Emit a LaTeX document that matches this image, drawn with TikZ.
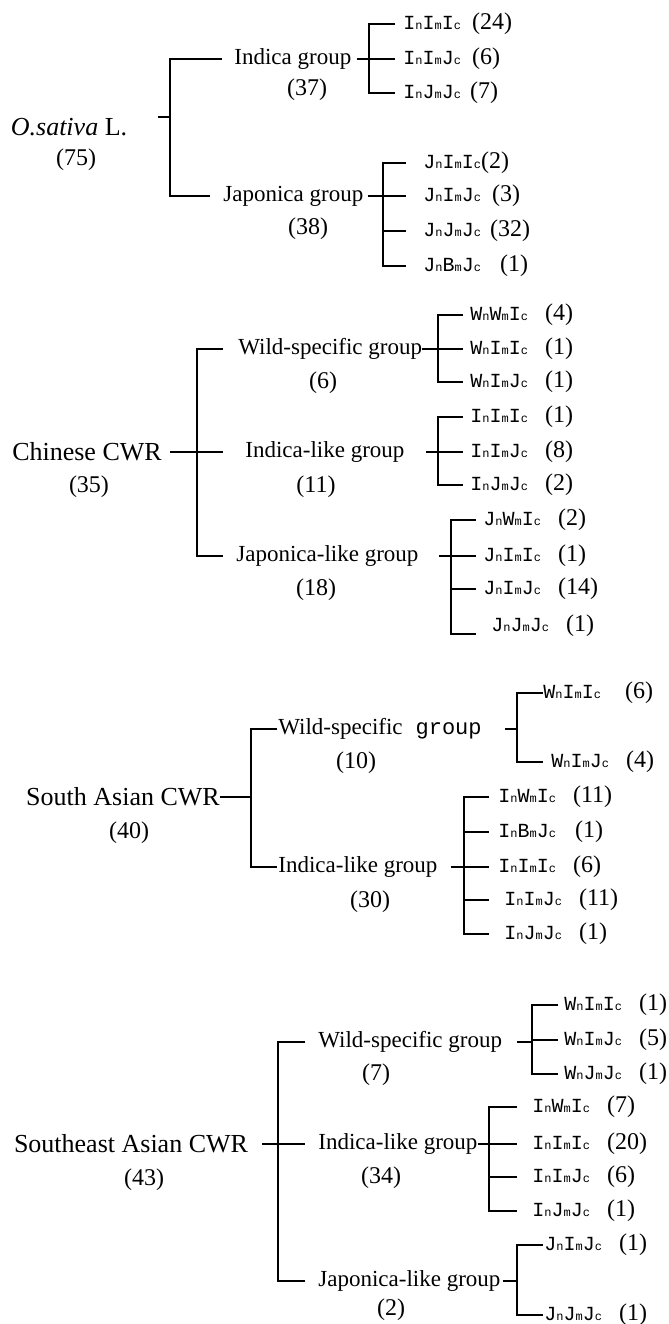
\documentclass[tikz,border=0pt]{standalone}
\usepackage{fontspec}
\setmainfont{Liberation Serif}
\newfontfamily\genofam{Liberation Mono}

\newcommand{\gcap}{\genofam\fontsize{10}{11}\selectfont}
\newcommand{\gsub}{\genofam\fontsize{6}{7}\selectfont}
% genotype label: \geno[gap]{n}{m}{c}
\newcommand{\geno}[4][8.5pt]{{\gcap #2{\gsub n}#3{\gsub m}#4{\gsub c}}\hspace{#1}}

\begin{document}
\begin{tikzpicture}[
    x=0.5pt, y=-0.5pt,
    tree/.style = {line width=1pt},
    root/.style = {inner sep=0pt, font=\fontsize{13}{15}\selectfont},
    grp/.style  = {anchor=west, inner sep=0pt, font=\fontsize{11.5}{13}\selectfont},
    cnt/.style  = {inner sep=0pt, font=\fontsize{12}{14}\selectfont},
    leaf/.style = {anchor=west, inner sep=0pt, font=\fontsize{12}{14}\selectfont}
]
\useasboundingbox (0,0) rectangle (669,1324);

% O. SATIVA
\node[root] (osat)  at (69,127)  {\textit{O.sativa} L.};
\node[cnt]  (osatn) at (76,160)  {(75)};
\node[grp]  (ind)   at (234,59)  {Indica group};
\node[cnt]  (indn)  at (307,90)  {(37)};
\node[grp]  (jap)   at (223,196) {Japonica group};
\node[cnt]  (japn)  at (308,229) {(38)};
\coordinate (r1) at (158,117);
\coordinate (s1) at (170,117);
\draw[tree] (r1) -- (s1);
\draw[tree] ([xshift=-6pt]ind.west) -| (s1) |- ([xshift=-6.5pt]jap.west);

\node[leaf] (a1) at (403,24) {\geno[5.5pt]{I}{I}{I}(24)};
\node[leaf] (a2) at (403,59) {\geno[5.5pt]{I}{I}{J}(6)};
\node[leaf] (a3) at (403,93) {\geno[4.5pt]{I}{J}{J}(7)};
\coordinate (s11) at (369,59);
\draw[tree] ([xshift=2.5pt]ind.east) -- (s11);
\draw[tree] ([xshift=-4pt]a1.west) -| (s11) |- ([xshift=-4pt]a3.west);
\draw[tree] (s11) -- ([xshift=-4pt]a2.west);

\node[leaf] (b1) at (423,163) {\geno[0pt]{J}{I}{I}(2)};
\node[leaf] (b2) at (423,196) {\geno[5.5pt]{J}{I}{J}(3)};
\node[leaf] (b3) at (423,231) {\geno[4.5pt]{J}{J}{J}(32)};
\node[leaf] (b4) at (423,266) {\geno[9.5pt]{J}{B}{J}(1)};
\coordinate (s12) at (383,196);
\draw[tree] ([xshift=2pt]jap.east) -- (s12);
\draw[tree] ([xshift=-8.5pt]b1.west) -| (s12) |- ([xshift=-8.5pt]b4.west);
\draw[tree] (s12) -- ([xshift=-8.5pt]b2.west);
\draw[tree] (b3.west -| s12) -- ([xshift=-8.5pt]b3.west);

% CHINESE CWR
\node[root] (chi)    at (87,452)  {Chinese CWR};
\node[cnt]  (chin)   at (89,487)  {(35)};
\node[grp]  (wild2)  at (238,349) {Wild-specific group};
\node[cnt]  (wild2n) at (323,383) {(6)};
\node[grp]  (indl2)  at (245,452) {Indica-like group};
\node[cnt]  (indl2n) at (316,487) {(11)};
\node[grp]  (japl2)  at (236,556) {Japonica-like group};
\node[cnt]  (japl2n) at (316,590) {(18)};
\coordinate (s2) at (197,452);
\draw[tree] ([xshift=4pt]chi.east) -- ([xshift=-11pt]indl2.west);
\draw[tree] ([xshift=-7.5pt]wild2.west) -| (s2) |- ([xshift=-6.5pt]japl2.west);

\node[leaf] (c1) at (470,315) {\geno{W}{W}{I}(4)};
\node[leaf] (c2) at (470,349) {\geno{W}{I}{I}(1)};
\node[leaf] (c3) at (470,382) {\geno{W}{I}{J}(1)};
\coordinate (s21) at (438,349);
\draw[tree] (wild2.east) -- (s21);
\draw[tree] ([xshift=-3.5pt]c1.west) -| (s21) |- ([xshift=-3.5pt]c3.west);
\draw[tree] (s21) -- ([xshift=-3.5pt]c2.west);

\node[leaf] (d1) at (470,417) {\geno{I}{I}{I}(1)};
\node[leaf] (d2) at (470,452) {\geno{I}{I}{J}(8)};
\node[leaf] (d3) at (470,485) {\geno{I}{J}{J}(2)};
\coordinate (s22) at (438,452);
\draw[tree] ([xshift=10.5pt]indl2.east) -- (s22);
\draw[tree] ([xshift=-3.5pt]d1.west) -| (s22) |- ([xshift=-3.5pt]d3.west);
\draw[tree] (s22) -- ([xshift=-3.5pt]d2.west);

\node[leaf] (e1) at (483,520) {\geno{J}{W}{I}(2)};
\node[leaf] (e2) at (483,556) {\geno{J}{I}{I}(1)};
\node[leaf] (e3) at (483,589) {\geno{J}{I}{J}(14)};
\node[leaf] (e4) at (491,626) {\geno{J}{J}{J}(1)};
\coordinate (s23) at (451,556);
\draw[tree] ([xshift=10pt]japl2.east) -- (s23);
\draw[tree] ([xshift=-3.5pt]e1.west) -| (s23) |- ([xshift=-7.5pt,yshift=-4pt]e4.west);
\draw[tree] (s23) -- ([xshift=-3.5pt]e2.west);
\draw[tree] (e3.west -| s23) -- ([xshift=-3.5pt]e3.west);

% SOUTH ASIAN CWR
\node[root] (sa)     at (123,797) {South Asian CWR};
\node[cnt]  (san)    at (129,833) {(40)};
\node[grp]  (wild3)  at (278,729) {Wild-specific\hspace{6.5pt}{\genofam\fontsize{11}{13}\selectfont group}};
\node[cnt]  (wild3n) at (356,763) {(10)};
\node[grp]  (indl3)  at (278,867) {Indica-like group};
\node[cnt]  (indl3n) at (370,902) {(30)};
\coordinate (s3) at (251,797);
\draw[tree] (sa.east) -- (s3);
\draw[tree] ([xshift=-0.5pt]wild3.west) -| (s3) |- ([xshift=-0.5pt]indl3.west);

\node[leaf] (f1) at (543,693) {\geno[12pt]{W}{I}{I}(6)};
\node[leaf] (f2) at (551,762) {\geno{W}{I}{J}(4)};
\coordinate (s31) at (517,729);
\draw[tree] ([xshift=11.5pt]wild3.east) -- (s31);
\draw[tree] (f1.west) -| (s31) |- ([xshift=-4pt]f2.west);

\node[leaf] (g1) at (498,797) {\geno{I}{W}{I}(11)};
\node[leaf] (g2) at (498,832) {\geno[9.5pt]{I}{B}{J}(1)};
\node[leaf] (g3) at (498,867) {\geno{I}{I}{I}(6)};
\node[leaf] (g4) at (504,900) {\geno{I}{I}{J}(11)};
\node[leaf] (g5) at (504,934) {\geno{I}{J}{J}(1)};
\coordinate (s32) at (464,867);
\draw[tree] ([xshift=6.5pt]indl3.east) -- (s32);
\draw[tree] ([xshift=-4.5pt]g1.west) -| (s32) |- ([xshift=-7.5pt]g5.west);
\draw[tree] (g2.west -| s32) -- ([xshift=-4.5pt]g2.west);
\draw[tree] (s32) -- ([xshift=-4.5pt]g3.west);
\draw[tree] (g4.west -| s32) -- ([xshift=-7.5pt]g4.west);

% SOUTHEAST ASIAN CWR
\node[root] (sea)    at (131,1144) {Southeast Asian CWR};
\node[cnt]  (sean)   at (144,1180) {(43)};
\node[grp]  (wild4)  at (318,1042) {Wild-specific group};
\node[cnt]  (wild4n) at (376,1075) {(7)};
\node[grp]  (indl4)  at (318,1144) {Indica-like group};
\node[cnt]  (indl4n) at (381,1178) {(34)};
\node[grp]  (japl4)  at (318,1281) {Japonica-like group};
\node[cnt]  (japl4n) at (391,1310) {(2)};
\coordinate (s4) at (278,1144);
\draw[tree] ([xshift=7pt]sea.east) -- ([xshift=-6.5pt]indl4.west);
\draw[tree] ([xshift=-6.5pt]wild4.west) -| (s4) |- ([xshift=-6.5pt]japl4.west);

\node[leaf] (h1) at (564,1005) {\geno{W}{I}{I}(1)};
\node[leaf] (h2) at (564,1040) {\geno{W}{I}{J}(5)};
\node[leaf] (h3) at (564,1074) {\geno{W}{J}{J}(1)};
\coordinate (s41) at (532,1040);
\draw[tree] ([xshift=7.5pt]wild4.east) -| (s41);
\draw[tree] ([xshift=-3pt]h1.west) -| (s41) |- ([xshift=-3pt]h3.west);
\draw[tree] (s41) -- ([xshift=-3pt]h2.west);

\node[leaf] (k1) at (532,1107) {\geno{I}{W}{I}(7)};
\node[leaf] (k2) at (532,1144) {\geno{I}{I}{I}(20)};
\node[leaf] (k3) at (532,1177) {\geno{I}{I}{J}(6)};
\node[leaf] (k4) at (532,1211) {\geno{I}{J}{J}(1)};
\coordinate (s42) at (489,1144);
\draw[tree] (indl4.east) -- (s42);
\draw[tree] ([xshift=-7.5pt]k1.west) -| (s42) |- ([xshift=-7.5pt]k4.west);
\draw[tree] (s42) -- ([xshift=-7.5pt]k2.west);
\draw[tree] (k3.west -| s42) -- ([xshift=-7.5pt]k3.west);

\node[leaf] (m1) at (544,1245) {\geno{J}{I}{J}(1)};
\node[leaf] (m2) at (544,1315) {\geno{J}{J}{J}(1)};
\coordinate (s43) at (517,1281);
\draw[tree] ([xshift=1pt]japl4.east) -- (s43);
\draw[tree] ([xshift=-0.5pt]m1.west) -| (s43) |- ([xshift=-0.5pt]m2.west);

\end{tikzpicture}
\end{document}
